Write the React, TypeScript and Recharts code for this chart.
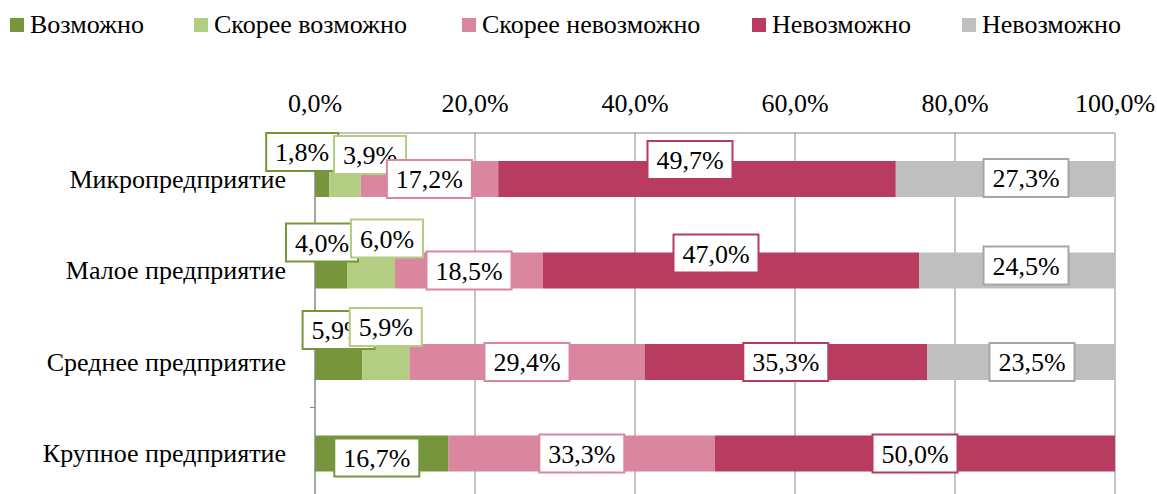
import { BarChart, Bar, XAxis, YAxis, CartesianGrid, LabelList } from 'recharts'

const categories = ['Микропредприятие', 'Малое предприятие', 'Среднее предприятие', 'Крупное предприятие']
const seriesNames = ['Возможно', 'Скорее возможно', 'Скорее невозможно', 'Невозможно', 'Невозможно']
const possible = [1.8, 4.0, 5.9, 16.7]
const ratherPossible = [3.9, 6.0, 5.9, 0]
const ratherImpossible = [17.2, 18.5, 29.4, 33.3]
const impossible = [49.7, 47.0, 35.3, 50.0]
const other = [27.3, 24.5, 23.5, 0]
const xTicks = [0, 20, 40, 60, 80, 100]

const seriesValues = [possible, ratherPossible, ratherImpossible, impossible, other]
const fills = ['#77963B', '#B3CE82', '#DA869E', '#B83C5F', '#BFBFBF']
const borders = ['#77963B', '#B3CE82', '#DA869E', '#B83C5F', '#A6A6A6']
const legendX = [10, 194, 462, 752, 962]

// manual label nudges (dx, dy) per series / category, like in the original
const labelShift = [
  [[-20, -27], [-9, -28], [0, -32], [-5, 4]],
  [[25, -24], [16, -32], [0, -35], [0, 0]],
  [[0, 0], [0, 0], [0, 0], [0, 0]],
  [[-7, -19], [-15, -17], [0, 0], [0, 0]],
  [[21, -1], [9, -5], [11, 0], [0, 0]],
]

const data = categories.map((name, i) => {
  const row: Record<string, string | number> = { name }
  seriesValues.forEach((vals, s) => { row['s' + s] = vals[i] })
  return row
})

const FONT = '"Liberation Serif", "Times New Roman", serif'
const FS = 26
const fmt = (v: number) => v.toFixed(1).replace('.', ',') + '%'
const BAND = 91.5

function makeLabel(s: number) {
  return (props: any) => {
    const { x, y, width, height, value, index } = props
    if (!value) return null
    const [dx, dy] = labelShift[s][index]
    const cx = x + width / 2 + dx
    const cy = y + height / 2 + dy
    const txt = fmt(Number(value))
    const w = 13 * txt.length + 20
    const h = 38
    return (
      <g>
        <rect x={cx - w / 2} y={cy - h / 2} width={w} height={h} fill="#fff" stroke={borders[s]} strokeWidth={2} />
        <text x={cx} y={cy} dy="0.35em" textAnchor="middle" fontSize={FS} fontFamily={FONT} fill="#000">{txt}</text>
      </g>
    )
  }
}

function CategoryTick(props: any) {
  const { x, y, payload } = props
  return (
    <g>
      <line x1={x - 5} x2={x} y1={y + BAND / 2} y2={y + BAND / 2} stroke="#868686" />
      <text x={x - 29} y={y} dy="0.35em" textAnchor="end" fontSize={FS} fontFamily={FONT} fill="#000">{payload.value}</text>
    </g>
  )
}

export default function App() {
  return (
    <div style={{ position: 'absolute', left: 0, top: 0, width: 1157, height: 494, overflow: 'hidden', background: '#fff' }}>
      {seriesNames.map((n, i) => (
        <div
          key={i}
          style={{ position: 'absolute', left: legendX[i], top: 8, height: 34, display: 'flex', alignItems: 'center', fontFamily: FONT, fontSize: FS, color: '#000', whiteSpace: 'nowrap' }}
        >
          <span style={{ width: 14, height: 14, background: fills[i], marginRight: 6, display: 'inline-block' }} />
          <span>{n}</span>
        </div>
      ))}
      <BarChart
        width={1157}
        height={500}
        data={data}
        layout="vertical"
        barSize={36}
        margin={{ top: 93, right: 42, left: 0, bottom: 1 }}
      >
        <CartesianGrid horizontal={false} vertical stroke="#8C8C8C" />
        <XAxis
          type="number"
          orientation="top"
          domain={[0, 100]}
          ticks={xTicks}
          tickFormatter={fmt}
          height={40}
          tickLine={false}
          tickSize={0}
          tickMargin={21}
          axisLine={{ stroke: '#868686' }}
          tick={{ fontSize: FS, fontFamily: FONT, fill: '#000' }}
          interval={0}
        />
        <YAxis
          type="category"
          dataKey="name"
          width={315}
          tickLine={false}
          tickSize={0}
          tickMargin={0}
          axisLine={{ stroke: '#868686' }}
          tick={<CategoryTick />}
          interval={0}
        />
        {seriesValues.map((_, s) => (
          <Bar key={s} dataKey={'s' + s} stackId="a" fill={fills[s]} isAnimationActive={false}>
            <LabelList dataKey={'s' + s} content={makeLabel(s)} />
          </Bar>
        ))}
      </BarChart>
    </div>
  )
}
